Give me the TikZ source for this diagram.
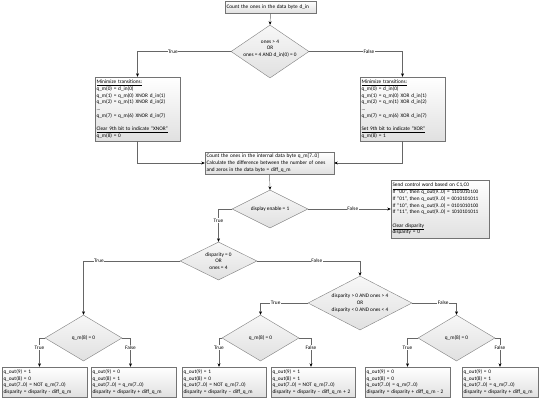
\documentclass[tikz,border=0pt]{standalone}
\usepackage{fontspec}
\setmainfont{Carlito}
\usetikzlibrary{shapes.geometric,arrows.meta,shadows}
\begin{document}
\begin{tikzpicture}[x=1pt,y=-1pt,
 font=\fontsize{5.3}{6.7}\selectfont,
 box/.style={draw=black!55, top color=white, bottom color=black!12,
   drop shadow={shadow xshift=0.9pt,shadow yshift=-0.9pt,fill=black!45,opacity=0.6},
   align=left, inner sep=1.5pt},
 dec/.style={diamond, draw=black!50, top color=black!3, bottom color=black!12, inner sep=0pt},
 txt/.style={align=center},
 arr/.style={draw=black!60, line width=0.45pt, -{Stealth[length=3.5pt,width=3pt,color=black]}},
 lab/.style={fill=white, inner sep=0.6pt},
]
\fill[white] (0,0) rectangle (540,400);
\useasboundingbox (0,0) rectangle (540,400);

\node[box, text width=88pt, minimum height=12pt] (start) at (270.5,7) {Count the ones in the data byte d\_in};

\node[dec, minimum width=78pt, minimum height=53pt,
  label={[txt,yshift=3pt]center:{ones > 4\\OR\\ones = 4 AND d\_in(0) = 0}}] (d0) at (270,51.5) {};

\node[box, text width=82pt, minimum height=64pt] (lbox) at (137.5,109) {\underline{Minimize transitions:}\\
q\_m(0) = d\_in(0)\\
q\_m(1) = q\_m(0) XNOR d\_in(1)\\
q\_m(2) = q\_m(1) XNOR d\_in(2)\\
...\\
q\_m(7) = q\_m(6) XNOR d\_in(7)\\[6.7pt]
\underline{Clear 9th bit to indicate “XNOR”}\\
q\_m(8) = 0};

\node[box, text width=82pt, minimum height=64pt] (rbox) at (402.5,109) {\underline{Minimize transitions:}\\
q\_m(0) = d\_in(0)\\
q\_m(1) = q\_m(0) XOR d\_in(1)\\
q\_m(2) = q\_m(1) XOR d\_in(2)\\
...\\
q\_m(7) = q\_m(6) XOR d\_in(7)\\[6.7pt]
\underline{Set 9th bit to indicate “XOR”}\\
q\_m(8) = 1};

\node[box, text width=126pt, minimum height=22pt] (mid) at (269.5,163) {Count the ones in the internal data byte q\_m[7..0]\\
Calculate the difference between the number of ones\\
and zeros in the data byte = diff\_q\_m};

\node[dec, minimum width=76pt, minimum height=38pt,
  label={[txt]center:{display enable = 1}}] (d1) at (270,209) {};

\node[box, text width=95pt, minimum height=58pt] (ctrl) at (440,209) {\underline{Send control word based on C1,C0}\\
If “00”, then q\_out(9..0) = 1101010100\\
If “01”, then q\_out(9..0) = 0010101011\\
If “10”, then q\_out(9..0) = 0101010100\\
If “11”, then q\_out(9..0) = 1010101011\\[6.7pt]
\underline{Clear disparity}\\
disparity = 0};

\node[dec, minimum width=77pt, minimum height=38pt,
  label={[txt]center:{disparity = 0\\OR\\ones = 4}}] (d2) at (218.5,261) {};

\node[dec, minimum width=104pt, minimum height=54pt,
  label={[txt]center:{disparity > 0 AND ones > 4\\OR\\disparity < 0 AND ones < 4}}] (d3) at (360,303) {};

\node[dec, minimum width=77pt, minimum height=46pt, label={[txt]center:{q\_m(8) = 0}}] (d4) at (83.5,338) {};
\node[dec, minimum width=77pt, minimum height=46pt, label={[txt]center:{q\_m(8) = 0}}] (d5) at (260.5,338) {};
\node[dec, minimum width=77pt, minimum height=46pt, label={[txt]center:{q\_m(8) = 0}}] (d6) at (456.5,338) {};

\node[box, text width=82pt, minimum height=30pt] (b1) at (44.5,382) {q\_out(9) = 1\\q\_out(8) = 0\\q\_out(7..0) = NOT q\_m(7..0)\\disparity = disparity - diff\_q\_m};
\node[box, text width=82pt, minimum height=30pt] (b2) at (133.5,382) {q\_out(9) = 0\\q\_out(8) = 1\\q\_out(7..0) = q\_m(7..0)\\disparity = disparity + diff\_q\_m};
\node[box, text width=81pt, minimum height=30pt] (b3) at (224,382) {q\_out(9) = 1\\q\_out(8) = 0\\q\_out(7..0) = NOT q\_m(7..0)\\disparity = disparity – diff\_q\_m};
\node[box, text width=81pt, minimum height=30pt] (b4) at (313,382) {q\_out(9) = 1\\q\_out(8) = 1\\q\_out(7..0) = NOT q\_m(7..0)\\disparity = disparity – diff\_q\_m + 2};
\node[box, text width=82pt, minimum height=30pt] (b5) at (407.5,382) {q\_out(9) = 0\\q\_out(8) = 0\\q\_out(7..0) = q\_m(7..0)\\disparity = disparity + diff\_q\_m - 2};
\node[box, text width=73pt, minimum height=30pt] (b6) at (500,382) {q\_out(9) = 0\\q\_out(8) = 1\\q\_out(7..0) = q\_m(7..0)\\disparity = disparity + diff\_q\_m};

\draw[arr] (start.south) -- (d0.north);
\draw[arr] (d0.west) -| node[lab,pos=0.31]{True} (lbox.north);
\draw[arr] (d0.east) -| node[lab,pos=0.32]{False} (rbox.north);
\draw[arr] (lbox.south) |- (mid.west);
\draw[arr] (rbox.south) |- (mid.east);
\draw[arr] (mid.south) -- (d1.north);
\draw[arr] (d1.east) -- node[lab,pos=0.54]{False} (ctrl.west);
\draw[arr] (d1.west) -| node[lab,pos=0.68]{True} (d2.north);
\draw[arr] (d2.west) -| node[lab,pos=0.42]{True} (d4.north);
\draw[arr] (d2.east) -| node[lab,pos=0.29]{False} (d3.north);
\draw[arr] (d3.west) -| node[lab,pos=0.34]{True} (d5.north);
\draw[arr] (d3.east) -| node[lab,pos=0.35]{False} (d6.north);
\draw[arr] (d4.west) -| node[lab,pos=0.67]{True} ([xshift=-5pt]b1.north);
\draw[arr] (d4.east) -| node[lab,pos=0.67]{False} ([xshift=-3pt]b2.north);
\draw[arr] (d5.west) -| node[lab,pos=0.67]{True} ([xshift=-5pt]b3.north);
\draw[arr] (d5.east) -| node[lab,pos=0.67]{False} ([xshift=-2pt]b4.north);
\draw[arr] (d6.west) -| node[lab,pos=0.67]{True} (b5.north);
\draw[arr] (d6.east) -| node[lab,pos=0.67]{False} (b6.north);
\end{tikzpicture}
\end{document}
